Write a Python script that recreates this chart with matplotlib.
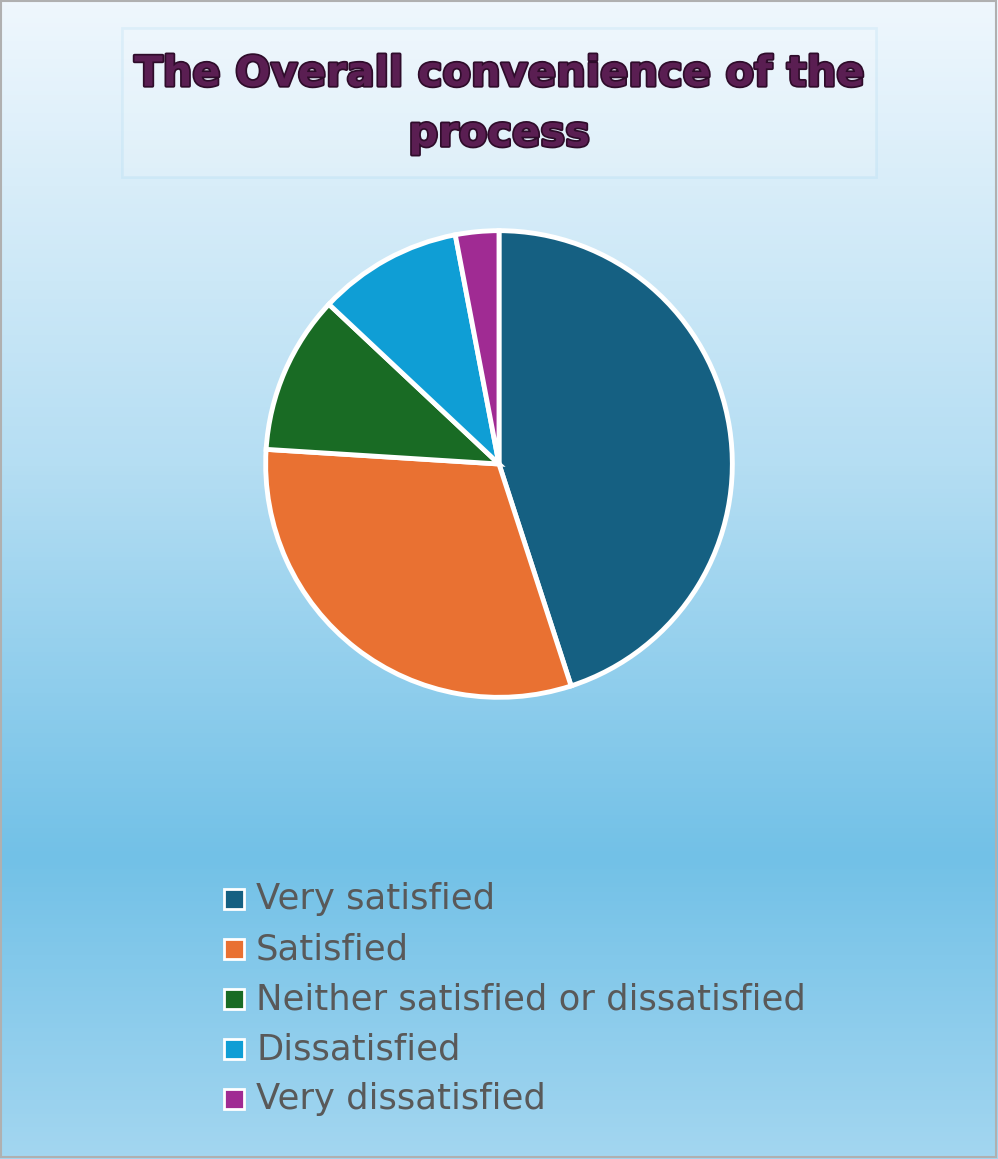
import numpy as np
import matplotlib
matplotlib.use("Agg")
import matplotlib.pyplot as plt
from matplotlib.colors import LinearSegmentedColormap
from matplotlib.patches import Rectangle
import matplotlib.patheffects as pe

labels = ["Very satisfied", "Satisfied", "Neither satisfied or dissatisfied", "Dissatisfied", "Very dissatisfied"]
values = [45, 31, 11, 10, 3]
colors = ["#156082", "#e97132", "#196b24", "#0f9ed5", "#a02b93"]
title = "The Overall convenience of the\nprocess"

W, H = 998, 1159
fig = plt.figure(figsize=(W/100, H/100), dpi=100)

# background gradient
bg = fig.add_axes([0, 0, 1, 1])
cmap = LinearSegmentedColormap.from_list("bg", [(0, "#eff7fd"), (0.4, "#b5def3"), (0.74, "#72c1e7"), (1, "#a3d6f0")])
grad = np.linspace(0, 1, 256).reshape(-1, 1)
bg.imshow(grad, aspect="auto", cmap=cmap, extent=[0, W, H, 0])
bg.set_xlim(0, W); bg.set_ylim(H, 0); bg.axis("off")
bg.add_patch(Rectangle((1, 1), W-3, H-3, fill=False, edgecolor="#b0b0b0", lw=1.5))
bg.add_patch(Rectangle((122, 28), 754, 149, facecolor="white", alpha=0.15, edgecolor="#86c8ea", lw=2))
bg.text(499, 104, title, ha="center", va="center", fontsize=30, fontweight="bold",
        color="#5a1e52", linespacing=1.55,
        path_effects=[pe.withStroke(linewidth=2.5, foreground="#2e0c2a")])

# legend
for i, (lab, c) in enumerate(zip(labels, colors)):
    y = 899 + 50*i
    bg.add_patch(Rectangle((224, y-10), 20, 20, facecolor=c, edgecolor="white", lw=2))
    bg.text(256, y, lab, ha="left", va="center", fontsize=25.5, color="#595959")

# pie
R = 238
ax = fig.add_axes([(499-R)/W, 1-(464+R)/H, 2*R/W, 2*R/H])
ax.pie(values, colors=colors, startangle=90, counterclock=False,
       wedgeprops=dict(edgecolor="white", linewidth=3.5))
ax.set_xlim(-1.02, 1.02); ax.set_ylim(-1.02, 1.02)
ax.set_aspect("equal")

fig.savefig("out.png", dpi=100)
